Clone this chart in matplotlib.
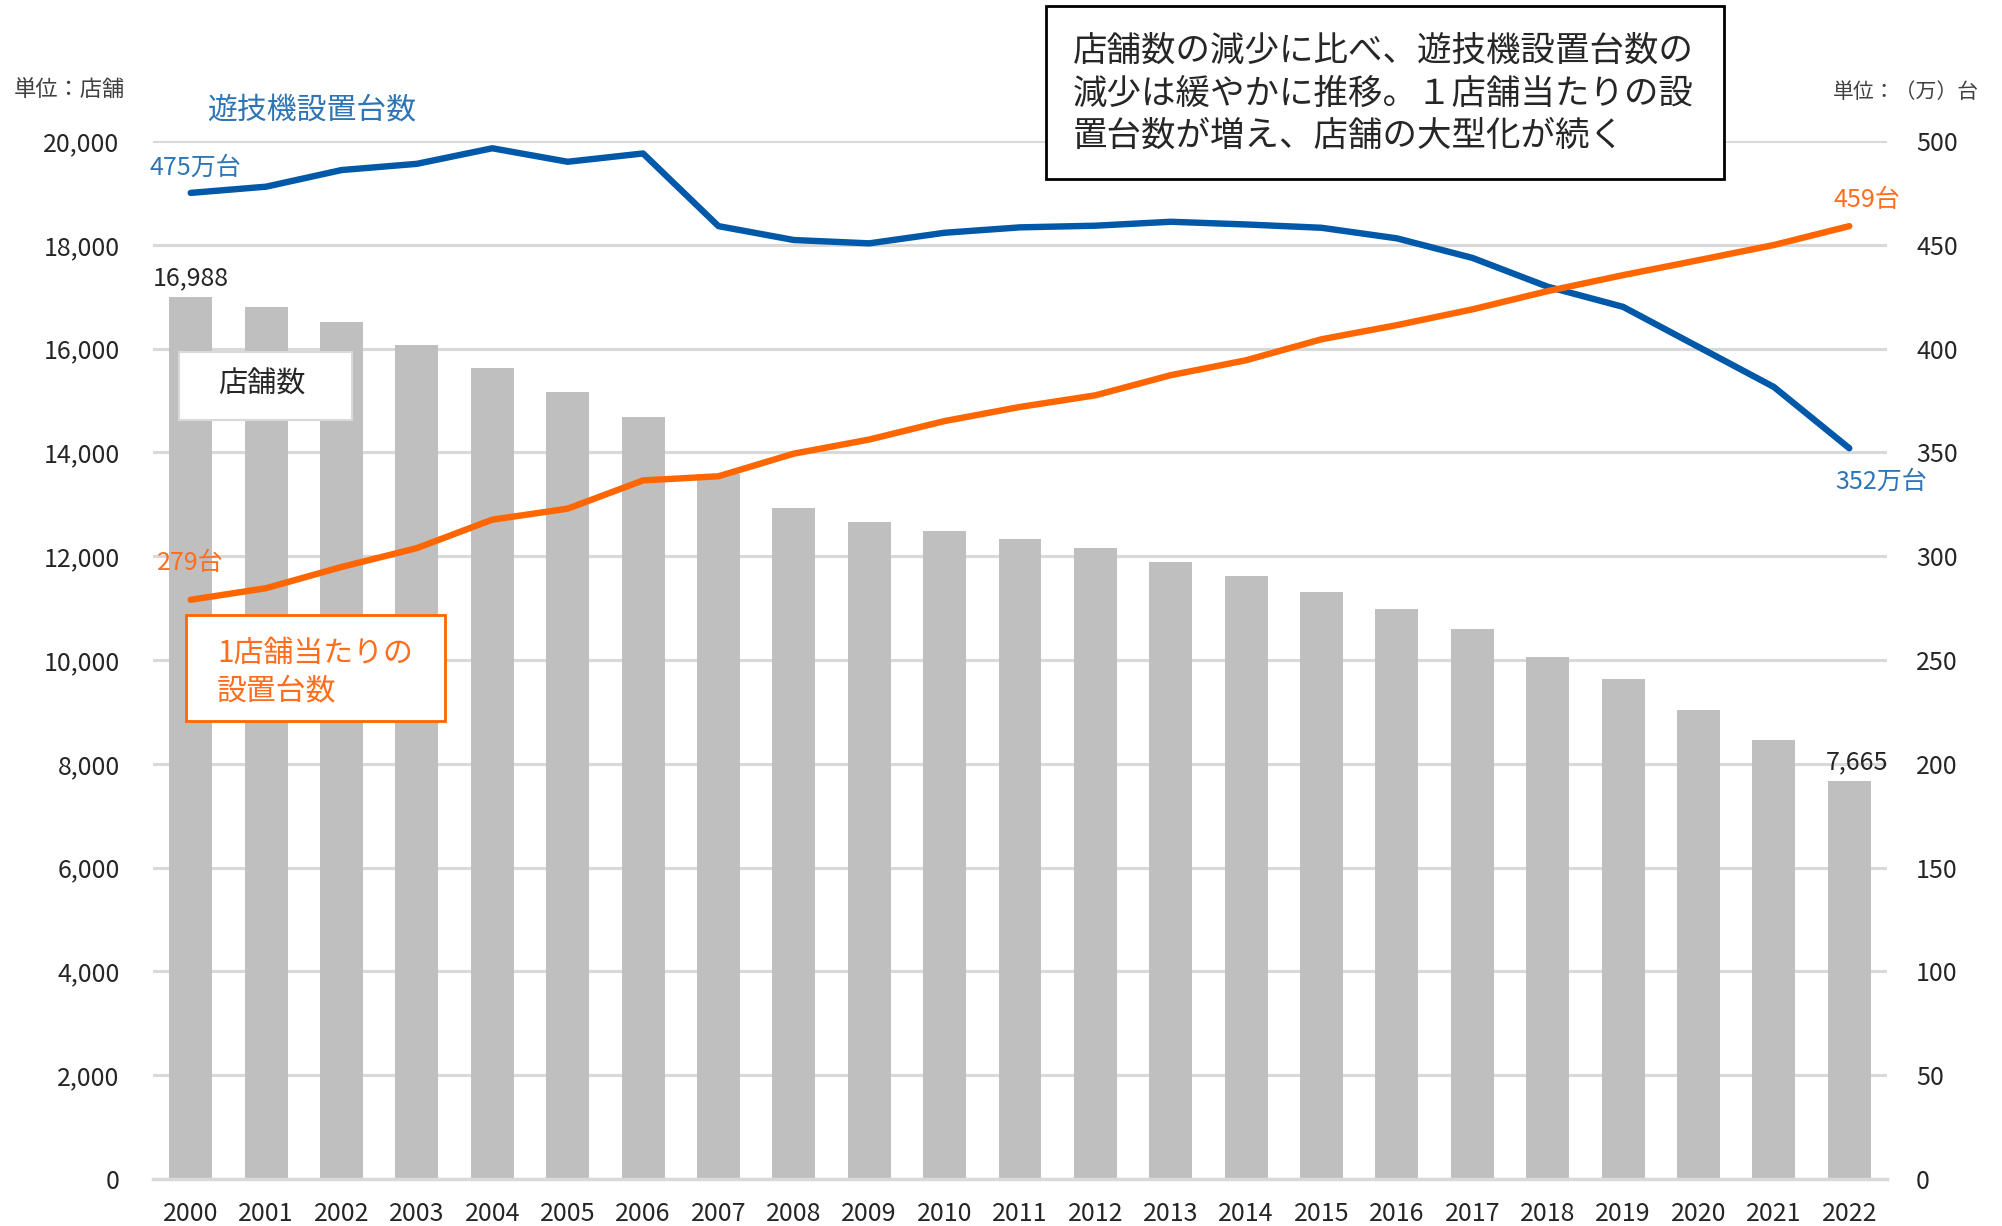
import matplotlib
matplotlib.use("Agg")
import matplotlib.pyplot as plt
from matplotlib.patches import Rectangle

plt.rcParams['font.family'] = ['Noto Sans CJK JP', 'DejaVu Sans']

years = [str(y) for y in range(2000, 2023)]
stores = [16988, 16801, 16504, 16076, 15617, 15165, 14674, 13585, 12937, 12652,
          12479, 12323, 12149, 11893, 11627, 11310, 10986, 10596, 10060, 9639,
          9035, 8458, 7665]
machines = [475, 478, 486, 489, 496.5, 490, 494, 459, 452.3, 450.7,
            455.8, 458.4, 459.2, 461.1, 459.8, 458.2, 453.1, 443.7, 429.8, 420.1,
            400.8, 381.5, 352]
per_store = [279, 284.6, 294.8, 303.9, 317.6, 322.9, 336.5, 338.5, 349.4, 356.2,
             365.1, 371.9, 377.5, 387.2, 394.4, 404.5, 411.3, 418.9, 427.7, 435.4,
             442.6, 449.9, 459]
left_ticks = list(range(0, 20001, 2000))
right_ticks = list(range(0, 501, 50))

W, H = 2002, 1226
fig = plt.figure(figsize=(W / 100, H / 100), dpi=100)

def fx(px):
    return px / W

def fy(py):
    return 1 - py / H

TXT = '#262626'
BLUE = '#0058a8'
BLUE_T = '#2e75b6'
ORANGE = '#ff6600'
ORANGE_T = '#ff6d1f'

ax = fig.add_axes([fx(153), fy(1179), (1887 - 153) / W, (1179 - 141) / H])
x = list(range(len(years)))
ax.bar(x, stores, width=0.57, color='#bfbfbf', zorder=2)
ax.set_xlim(-0.5, len(years) - 0.5)
ax.set_ylim(0, 20000)
ax.set_yticks(left_ticks)
ax.set_yticklabels([f"{v:,}" for v in left_ticks])
ax.set_xticks(x)
ax.set_xticklabels(years)
ax.yaxis.grid(True, color='#d9d9d9', lw=2.2, zorder=0)
ax.set_axisbelow(True)
for s in ['top', 'right', 'left']:
    ax.spines[s].set_visible(False)
ax.spines['bottom'].set_color('#d9d9d9')
ax.spines['bottom'].set_linewidth(2.5)
ax.tick_params(axis='both', length=0, labelsize=18, colors=TXT)
ax.tick_params(axis='y', pad=24)
ax.tick_params(axis='x', pad=16)

ax2 = ax.twinx()
ax2.set_ylim(0, 500)
ax2.set_yticks(right_ticks)
ax2.set_yticklabels([str(v) for v in right_ticks])
for s in ax2.spines.values():
    s.set_visible(False)
ax2.tick_params(axis='y', length=0, labelsize=18, colors=TXT, pad=21)
ax2.plot(x, machines, color=BLUE, lw=4.6, solid_capstyle='round', solid_joinstyle='round')
ax2.plot(x, per_store, color=ORANGE, lw=4.6, solid_capstyle='round', solid_joinstyle='round')

# data labels on bars
ax.text(x[0], stores[0] + 120, f"{stores[0]:,}", ha='center', va='bottom', fontsize=18, color=TXT)
ax.text(x[-1] + 0.1, stores[-1] + 120, f"{stores[-1]:,}", ha='center', va='bottom', fontsize=18, color=TXT)

# line end labels
fig.text(fx(150), fy(168), f"{machines[0]:.0f}万台", ha='left', va='center', fontsize=18, color=BLUE_T)
fig.text(fx(1835), fy(482), f"{machines[-1]:.0f}万台", ha='left', va='center', fontsize=18, color=BLUE_T)
fig.text(fx(157), fy(563), f"{per_store[0]:.0f}台", ha='left', va='center', fontsize=18, color=ORANGE_T)
fig.text(fx(1833), fy(200), f"{per_store[-1]:.0f}台", ha='left', va='center', fontsize=18, color=ORANGE_T)

# unit labels
fig.text(fx(14), fy(90), "単位：店舗", ha='left', va='center', fontsize=16, color='#404040')
fig.text(fx(1979), fy(92), "単位：（万）台", ha='right', va='center', fontsize=15, color='#404040')

# series titles
fig.text(fx(207), fy(111), "遊技機設置台数", ha='left', va='center', fontsize=21.5, color=BLUE_T)

r1 = Rectangle((fx(179), fy(420)), (352 - 179) / W, (420 - 352) / H, transform=fig.transFigure,
               facecolor='white', edgecolor='#d9d9d9', lw=1.5, zorder=5)
fig.add_artist(r1)
fig.text(fx(262), fy(385), "店舗数", ha='center', va='center', fontsize=21, color=TXT, zorder=6)

r2 = Rectangle((fx(186), fy(721)), (445 - 186) / W, (721 - 615) / H, transform=fig.transFigure,
               facecolor='white', edgecolor=ORANGE, lw=2, zorder=5)
fig.add_artist(r2)
fig.text(fx(217), fy(654), "1店舗当たりの", ha='left', va='center', fontsize=21.5, color=ORANGE_T, zorder=6)
fig.text(fx(217), fy(691), "設置台数", ha='left', va='center', fontsize=21.5, color=ORANGE_T, zorder=6)

# comment box
r3 = Rectangle((fx(1046), fy(179)), (1724 - 1046) / W, (179 - 6) / H, transform=fig.transFigure,
               facecolor='white', edgecolor='black', lw=2, zorder=5)
fig.add_artist(r3)
lines = ["店舗数の減少に比べ、遊技機設置台数の",
         "減少は緩やかに推移。１店舗当たりの設",
         "置台数が増え、店舗の大型化が続く"]
for ln, yy in zip(lines, [51, 94, 136]):
    fig.text(fx(1073), fy(yy), ln, ha='left', va='center', fontsize=24.8, color=TXT, zorder=6)

fig.savefig("out.png", dpi=100, facecolor='white')
